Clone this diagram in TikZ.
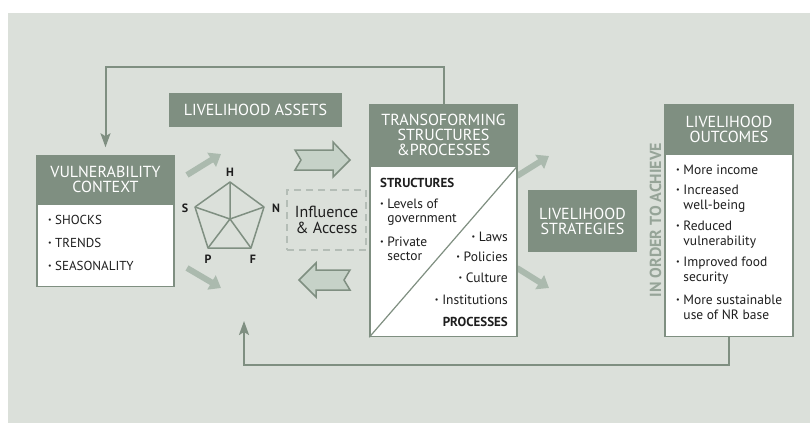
\documentclass[tikz,border=0pt]{standalone}
\usepackage{graphicx}
\usepackage{fontspec}
\setmainfont{PT Sans}
\usetikzlibrary{arrows.meta}

\definecolor{panel}{RGB}{219,224,218}
\definecolor{sage}{RGB}{127,143,129}
\definecolor{sagelight}{RGB}{171,186,174}
\definecolor{sagepale}{RGB}{198,210,200}
\definecolor{sagetext}{RGB}{150,164,152}
\definecolor{dashgray}{RGB}{180,189,182}
\definecolor{ink}{RGB}{30,30,30}

\newcommand{\bul}{\raisebox{0.3ex}{\scalebox{0.6}{•}}\ }

\tikzstyle{head}=[fill=sage,draw=sage,line width=1.5pt,text=white,align=center,inner sep=0pt,font=\fontsize{16}{15.2}\selectfont]
\tikzstyle{body}=[fill=white,draw=sage,line width=1.5pt,inner sep=0pt]
\tikzstyle{item}=[anchor=west,align=left,inner sep=0pt,text=ink,font=\fontsize{13.5}{14.5}\selectfont]
\tikzstyle{itemr}=[item,anchor=east,align=right]
\tikzstyle{bold}=[item,font=\fontsize{13}{14}\selectfont\bfseries]
\tikzstyle{corner}=[inner sep=0pt,text=ink,font=\fontsize{12}{12}\selectfont\bfseries]
\tikzstyle{web}=[draw=sage,line width=1.5pt,line join=round]
\tikzstyle{loopline}=[draw=sage,line width=2pt,-{Stealth[length=14pt,width=10pt,inset=3pt]}]
\tikzstyle{push}=[draw=sagelight,line width=6pt,-{Triangle[length=11pt,width=16pt]}]
\tikzstyle{blockarrow}=[fill=sagepale,draw=sage,line width=1.5pt,line join=miter]
\tikzstyle{dashbox}=[draw=dashgray,line width=1.2pt,dash pattern=on 7pt off 5pt,inner sep=0pt,text=ink,align=center,font=\fontsize{16}{16}\selectfont]

\begin{document}
\begin{tikzpicture}[x=1pt,y=-1pt]
    \useasboundingbox (0,0) rectangle (810,423);
    \fill[panel] (8,13) rectangle (810,423);

    % vulnerability context
    \node (vulnhead)[head,minimum width=137,minimum height=47] at (105.5,179.5) {VULNERABILITY\\CONTEXT};
    \node (vulnbody)[body,minimum width=137,minimum height=82,anchor=north] at (vulnhead.south) {};
    \node (shocks)[item,font=\fontsize{13}{23}\selectfont] at (48,243) {\bul SHOCKS\\\bul TRENDS\\\bul SEASONALITY};

    % assets
    \node (assets)[head,minimum width=171,minimum height=32] at (255.5,110) {LIVELIHOOD ASSETS};
    \coordinate (hub) at (230,219);
    \coordinate (vh) at (230,182);
    \coordinate (vn) at (264,207);
    \coordinate (vf) at (251,248);
    \coordinate (vp) at (208,248);
    \coordinate (vs) at (195,207);
    \draw[web] (vh) -- (vn) -- (vf) -- (vp) -- (vs) -- cycle;
    \draw[web] (hub) -- (vh) (hub) -- (vn) (hub) -- (vf) (hub) -- (vp) (hub) -- (vs);
    \node (h)[corner] at (230,172) {H};
    \node (n)[corner] at (276,208) {N};
    \node (f)[corner] at (253,259) {F};
    \node (p)[corner] at (208,259) {P};
    \node (s)[corner] at (185,208) {S};

    % small arrows
    \coordinate (va1) at (187,175);
    \coordinate (va2) at (221,154);
    \coordinate (vb1) at (187,268);
    \coordinate (vb2) at (221,288);
    \coordinate (ta1) at (517,176);
    \coordinate (ta2) at (549,156);
    \coordinate (tb1) at (517,268);
    \coordinate (tb2) at (549,288);
    \draw[push] (va1) -- (va2);
    \draw[push] (vb1) -- (vb2);
    \draw[push] (ta1) -- (ta2);
    \draw[push] (tb1) -- (tb2);

    % influence and access
    \node (infl)[dashbox,minimum width=79,minimum height=60] at (326.5,220) {Influence\\\& Access};
    \draw[blockarrow] (295,150) -- (333,150) -- (333,142) -- (350,160) -- (333,177) -- (333,170) -- (295,170) -- (301,160) -- cycle;
    \draw[blockarrow] (350,270) -- (316,270) -- (316,263) -- (299,280) -- (316,297) -- (316,290) -- (350,290) -- (344,280) -- cycle;

    % transforming structures
    \node (transhead)[head,minimum width=147,minimum height=60] at (443.5,135) {TRANSOFORMING\\STRUCTURES\\\&PROCESSES};
    \node (transbody)[body,minimum width=147,minimum height=170,anchor=north] at (transhead.south) {};
    \draw[web,line width=1.2pt] (transbody.south west) -- (transbody.north east);
    \node (struct)[bold] at (380,183) {STRUCTURES};
    \node (levels)[item] at (380,212) {\bul Levels of\\\hphantom{\bul}government};
    \node (private)[item] at (380,249) {\bul Private\\\hphantom{\bul}sector};
    \node (laws)[itemr] at (508,237) {\bul Laws};
    \node (policies)[itemr] at (508,257) {\bul Policies};
    \node (culture)[itemr] at (508,278) {\bul Culture};
    \node (inst)[itemr] at (508,300) {\bul Institutions};
    \node (proc)[bold,anchor=east] at (508,322) {PROCESSES};

    % strategies
    \node (strat)[head,minimum width=107,minimum height=60] at (582.5,221) {LIVELIHOOD\\STRATEGIES};
    \node (achieve)[rotate=90,inner sep=0pt,text=sagetext,font=\fontsize{16}{16}\selectfont\bfseries] at (655.5,220) {IN ORDER TO ACHIEVE};

    % outcomes
    \node (outhead)[head,minimum width=128,minimum height=48] at (729,129) {LIVELIHOOD\\OUTCOMES};
    \node (outbody)[body,minimum width=128,minimum height=182,anchor=north] at (outhead.south) {};
    \node (income)[item] at (676,170) {\bul More income};
    \node (wellb)[item] at (676,198.5) {\bul Increased\\\hphantom{\bul}well-being};
    \node (vuln)[item] at (676,234.5) {\bul Reduced\\\hphantom{\bul}vulnerability};
    \node (food)[item] at (676,270.5) {\bul Improved food\\\hphantom{\bul}security};
    \node (nrbase)[item] at (676,307.5) {\bul More sustainable\\\hphantom{\bul}use of NR base};

    % feedback loops
    \coordinate (backtip) at (244,321);
    \draw[loopline] (transhead.north) -- ++(0,-37) -| ([yshift=8pt]vulnhead.north);
    \draw[loopline] (outbody.south) -- ++(0,28) -| (backtip);
\end{tikzpicture}
\end{document}
